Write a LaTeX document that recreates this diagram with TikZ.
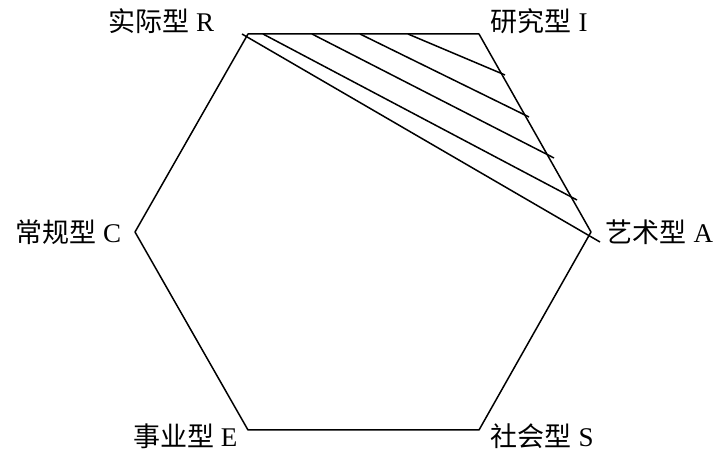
\documentclass[tikz,border=0pt]{standalone}
\usepackage{fontspec}
\setmainfont{Liberation Serif}
\newfontfamily\cjk{Noto Sans CJK SC}
\usepackage{tikz}

\begin{document}
\begin{tikzpicture}[x=1pt, y=-1pt, line width=1.5pt, line join=round,
    typelabel/.style={font=\fontsize{27}{31}\selectfont, inner sep=0pt}]
        \useasboundingbox (0,0) rectangle (724,454);

        % Hexagon corners
            \coordinate (R) at (248,34);
            \coordinate (I) at (479,34);
            \coordinate (A) at (591,232);
            \coordinate (S) at (479,430);
            \coordinate (E) at (248,430);
            \coordinate (C) at (135,232);

            % Hexagon
            \draw (R) -- (I) -- (A) -- (S) -- (E) -- (C) -- cycle;

            % Hatching: starts on R--I, ends on I--A
            \coordinate (h1) at (263,34);
            \coordinate (h2) at (312,34);
            \coordinate (h3) at (360,34);
            \coordinate (h4) at (408,34);
            \coordinate (k1) at (577,200);
            \coordinate (k2) at (554,158);
            \coordinate (k3) at (529,117);
            \coordinate (k4) at (505,75);
            \draw (h1) -- (k1);
            \draw (h2) -- (k2);
            \draw (h3) -- (k3);
            \draw (h4) -- (k4);

            % Line from R past A
            \coordinate (r0) at (242,34);
            \coordinate (a0) at (600,242);
            \draw (r0) -- (a0);

            % Labels
            \node[typelabel, anchor=east] (lR) at (215,21) {{\cjk 实际型} R};
            \node[typelabel, anchor=west] (lI) at (490,21) {{\cjk 研究型} I};
            \node[typelabel, anchor=west] (lA) at (605,232) {{\cjk 艺术型} A};
            \node[typelabel, anchor=east] (lC) at (122,232) {{\cjk 常规型} C};
            \node[typelabel, anchor=east] (lE) at (238,436) {{\cjk 事业型} E};
            \node[typelabel, anchor=west] (lS) at (490,436) {{\cjk 社会型} S};
    \end{tikzpicture}
\end{document}
